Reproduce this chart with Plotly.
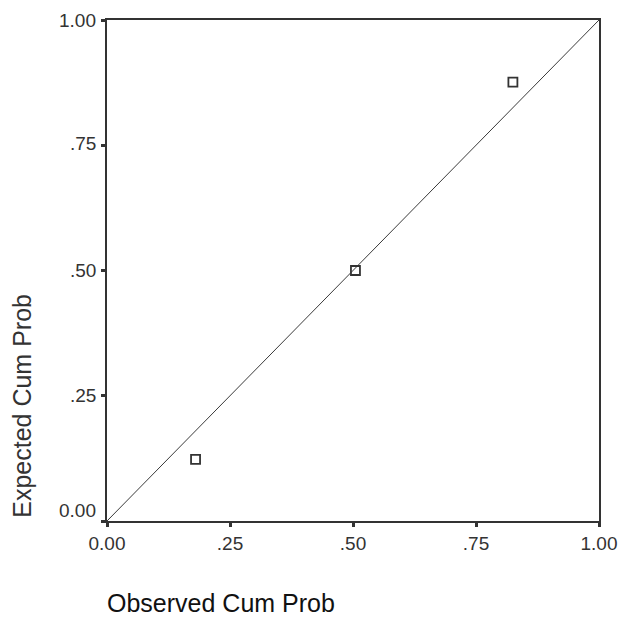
import plotly.graph_objects as go

observed = [0.180, 0.505, 0.825]
expected = [0.123, 0.500, 0.876]
tick_vals = [0.0, 0.25, 0.5, 0.75, 1.0]
x_tick_text = ["0.00", ".25", ".50", ".75", "1.00"]
y_tick_text = ["0.00", ".25", ".50", ".75", "1.00"]
y_label_shift = [11, 0, 0, 2, 0]
diag = [0.0, 1.0]

fig = go.Figure()
fig.add_trace(go.Scatter(x=diag, y=diag, mode="lines",
                         line=dict(color="#3a3a3a", width=1), hoverinfo="skip"))
fig.add_trace(go.Scatter(x=observed, y=expected, mode="markers",
                         marker=dict(symbol="square-open", size=9,
                                     color="#333333", line=dict(width=1.8))))

font = "Liberation Sans, Arial, sans-serif"
annotations = [
    dict(text=t, xref="paper", yref="y", x=0, y=v, xanchor="right",
         yanchor="middle", showarrow=False, xshift=-9, yshift=s,
         font=dict(family=font, size=19, color="#333333"))
    for t, v, s in zip(y_tick_text, tick_vals, y_label_shift)
]
annotations += [
    dict(text="Observed Cum Prob", xref="paper", yref="paper",
         x=0.0, y=-0.164, xanchor="left", yanchor="middle", showarrow=False,
         xshift=-2, font=dict(family=font, size=25, color="#111111")),
    dict(text="Expected Cum Prob", xref="paper", yref="paper",
         x=0.0, y=0.23, xanchor="center", yanchor="middle", showarrow=False,
         textangle=-90, xshift=-85,
         font=dict(family=font, size=25, color="#333333")),
]

fig.update_layout(
    width=623, height=623,
    margin=dict(l=107, r=24, t=20, b=102, autoexpand=False),
    plot_bgcolor="white", paper_bgcolor="white",
    showlegend=False,
    font=dict(family=font, size=19, color="#222222"),
    xaxis=dict(range=[0, 1], tickvals=tick_vals, ticktext=x_tick_text,
               automargin=False,
               showgrid=False, zeroline=False, showline=True, mirror=True,
               linecolor="#333333", linewidth=2, ticks="outside", ticklen=4,
               tickwidth=3, tickcolor="#333333",
               tickfont=dict(family=font, size=19, color="#333333")),
    yaxis=dict(range=[0, 1], tickvals=tick_vals, showticklabels=False,
               automargin=False,
               showgrid=False, zeroline=False, showline=True, mirror=True,
               linecolor="#333333", linewidth=2, ticks="outside", ticklen=4,
               tickwidth=3, tickcolor="#333333"),
    annotations=annotations,
)
fig.write_html("out.html")
